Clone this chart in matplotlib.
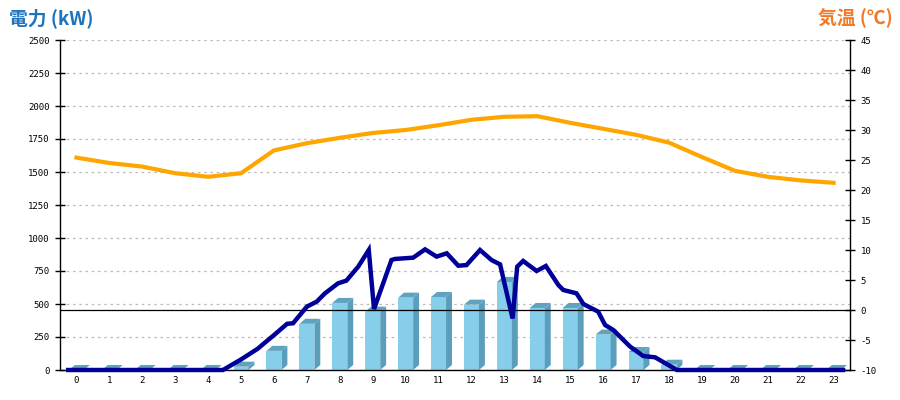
import matplotlib
matplotlib.use("Agg")
import matplotlib.pyplot as plt
from matplotlib.patches import Polygon
from matplotlib.transforms import blended_transform_factory
import numpy as np

# ---- data ----
hours = list(range(24))
hour_labels = [str(h) for h in hours]
power_hourly_kw = [0, 0, 0, 0, 0, 25, 145, 350, 508, 442, 548, 553,
                   495, 667, 470, 470, 268, 136, 40, 0, 0, 0, 0, 0]
temp_c = [25.4, 24.5, 23.9, 22.8, 22.2, 22.8, 26.6, 27.8, 28.7, 29.5, 30.0, 30.8,
          31.7, 32.2, 32.3, 31.2, 30.2, 29.2, 27.9, 25.5, 23.2, 22.2, 21.6, 21.2]
power_time = [-0.25, 4.45, 5.0, 5.5, 6.05, 6.4, 6.58, 7.0, 7.3, 7.55, 7.95, 8.2,
              8.56, 8.88, 9.04, 9.57, 9.67, 10.23, 10.59, 10.94, 11.25, 11.6,
              11.85, 12.26, 12.61, 12.87, 13.25, 13.39, 13.57, 13.98, 14.26,
              14.64, 14.79, 15.19, 15.4, 15.85, 16.06, 16.31, 16.82, 17.22,
              17.58, 18.24, 23.29]
power_kw = [0, 0, 80, 160, 275, 350, 354, 480, 518, 581, 657, 677,
            783, 909, 462, 833, 841, 851, 914, 859, 884, 790,
            795, 909, 833, 800, 390, 783, 826, 750, 788,
            644, 606, 581, 500, 442, 341, 303, 177, 106,
            96, 0, 0]
kw_ticks = list(range(0, 2501, 250))
temp_ticks = list(range(-10, 46, 5))

# ---- figure ----
fig = plt.figure(figsize=(9, 4), dpi=100)
ax = fig.add_axes([60/900, 30/400, 790/900, 330/400])
ax2 = ax.twinx()

ax.set_xlim(-0.5, 23.5)
ax.set_ylim(0, 2500)
ax2.set_ylim(-10, 45)

front = '#87CEEB'
side = '#5A9EBC'
top = '#5FA3C0'
w = 0.456
dx = 0.18
dy = 38

for c, v in zip(hours, power_hourly_kw):
    if v > 0:
        ax.add_patch(Polygon([(c - w/2, 0), (c + w/2, 0), (c + w/2, v), (c - w/2, v)],
                             closed=True, facecolor=front, edgecolor='none', zorder=2))
        ax.add_patch(Polygon([(c + w/2, 0), (c + w/2 + dx, dy), (c + w/2 + dx, v + dy), (c + w/2, v)],
                             closed=True, facecolor=side, edgecolor='none', zorder=2))
    ax.add_patch(Polygon([(c - w/2, v), (c - w/2 + dx, v + dy), (c + w/2 + dx, v + dy), (c + w/2, v)],
                         closed=True, facecolor=top, edgecolor='none', zorder=2))

# zero-degree line
tr = blended_transform_factory(ax.transAxes, ax2.transData)
ax.plot([0, 1], [0, 0], color='black', lw=0.9, transform=tr, zorder=3)

ax.plot(power_time, power_kw, color='#000099', lw=3.2, zorder=4, clip_on=False,
        solid_joinstyle='miter')
ax2.plot(hours, temp_c, color='#FFA500', lw=3.0, zorder=4)

ax.set_yticks(kw_ticks)
ax.set_yticklabels([str(t) for t in kw_ticks])
ax2.set_yticks(temp_ticks)
ax2.set_yticklabels([str(t) for t in temp_ticks])
ax.set_xticks(hours)
ax.set_xticklabels(hour_labels)

ax.yaxis.grid(True, color='#bbbbbb', linestyle=(0, (2, 3)), lw=0.9)
ax.set_axisbelow(True)

for a in (ax, ax2):
    a.spines['top'].set_visible(False)
    for s in ('left', 'right', 'bottom'):
        a.spines[s].set_color('black')
        a.spines[s].set_linewidth(1.0)
ax.spines['right'].set_visible(False)
ax2.spines['left'].set_visible(False)
ax2.spines['bottom'].set_visible(False)

tick_font = dict(family='DejaVu Sans Mono', size=6.5)
ax.tick_params(axis='y', direction='inout', length=7, width=1, pad=4)
ax2.tick_params(axis='y', direction='inout', length=7, width=1, pad=4)
ax.tick_params(axis='x', length=0, pad=4)
for lab in ax.get_yticklabels() + ax.get_xticklabels() + ax2.get_yticklabels():
    lab.set_fontfamily('DejaVu Sans Mono')
    lab.set_fontsize(6.5)

fig.text(9/900, 1 - 18/400, '電力 (kW)', ha='left', va='center', fontsize=13.5,
         fontweight='bold', color='#1E73BE', family=['Noto Sans CJK JP', 'DejaVu Sans'])
fig.text(893/900, 1 - 18/400, '気温 (℃)', ha='right', va='center', fontsize=13.5,
         fontweight='bold', color='#EF7B2A', family=['Noto Sans CJK JP', 'DejaVu Sans'])

fig.savefig('out.png', dpi=100)
